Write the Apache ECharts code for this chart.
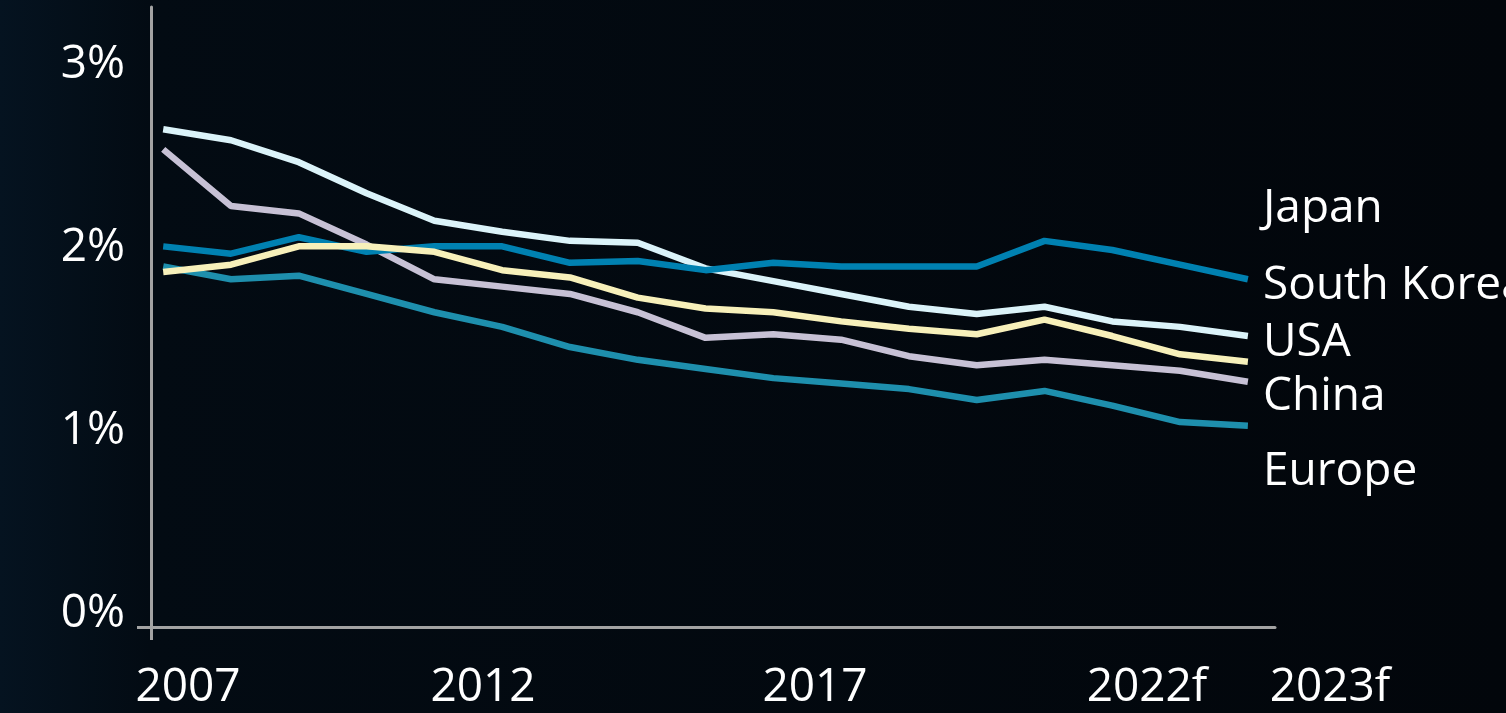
<!DOCTYPE html>
<html>
<head>
<meta charset="utf-8">
<title>Share by region</title>
<script src="https://cdn.jsdelivr.net/npm/echarts@6/dist/echarts.min.js"></script>
<style>
  html, body { margin: 0; padding: 0; background: #02070d; }
  #main { width: 1506px; height: 713px; }
</style>
</head>
<body>
<div id="main"></div>
<script>
var years = [2007, 2008, 2009, 2010, 2011, 2012, 2013, 2014, 2015, 2016, 2017, 2018, 2019, 2020, 2021, 2022, 2023];

var southKorea = [2.72, 2.66, 2.54, 2.37, 2.22, 2.16, 2.11, 2.10, 1.96, 1.89, 1.82, 1.75, 1.71, 1.75, 1.67, 1.64, 1.59];
var japan      = [2.08, 2.04, 2.13, 2.05, 2.08, 2.08, 1.99, 2.00, 1.95, 1.99, 1.97, 1.97, 1.97, 2.11, 2.06, 1.98, 1.90];
var usa        = [1.94, 1.98, 2.08, 2.08, 2.05, 1.95, 1.91, 1.80, 1.74, 1.72, 1.67, 1.63, 1.60, 1.68, 1.59, 1.49, 1.45];
var china      = [2.61, 2.30, 2.26, 2.09, 1.90, 1.86, 1.82, 1.72, 1.58, 1.60, 1.57, 1.48, 1.43, 1.46, 1.43, 1.40, 1.34];
var europe     = [1.97, 1.90, 1.92, 1.82, 1.72, 1.64, 1.53, 1.46, 1.41, 1.36, 1.33, 1.30, 1.24, 1.29, 1.21, 1.12, 1.10];

var yTicks = [0, 1, 2, 3];
var xLabels = ['2007', '2012', '2017', '2022f', '2023f'];
var seriesNames = ['Japan', 'South Korea', 'USA', 'China', 'Europe'];

// where the text boxes sit on the slide (layout only)
var xLabelX = [188, 483, 815, 1147, 1330];
var xLabelY = 688;
var nameX = 1263;
var nameY = [209, 286, 343, 397, 472];

var fontFamily = '"Open Sans", sans-serif',
    fontSize = 46,
    textColor = '#ffffff',
    axisColor = '#a3a3a3';

function pairs(vals) {
  return years.map(function (y, i) { return [y, vals[i]]; });
}

var chart = echarts.init(document.getElementById('main'));

var graphics = [];
xLabels.forEach(function (t, i) {
  graphics.push({
    type: 'text', x: xLabelX[i], y: xLabelY, silent: true,
    style: { text: t, fill: textColor, font: fontSize + 'px ' + fontFamily, align: 'center', verticalAlign: 'middle' }
  });
});
seriesNames.forEach(function (t, i) {
  graphics.push({
    type: 'text', x: nameX, y: nameY[i], silent: true,
    style: { text: t, fill: textColor, font: fontSize + 'px ' + fontFamily, align: 'left', verticalAlign: 'middle' }
  });
});

var option = {
  animation: false,
  backgroundColor: {
    type: 'linear', x: 0, y: 0, x2: 1, y2: 0,
    colorStops: [
      { offset: 0, color: '#051320' },
      { offset: 0.1, color: '#030b13' },
      { offset: 1, color: '#02060b' }
    ]
  },
  textStyle: { fontFamily: fontFamily },
  grid: { left: 151, right: 231, top: 7, bottom: 86 },
  xAxis: {
    type: 'value',
    min: 2007 - 0.18,
    max: 2023 + 0.4,
    axisLine: { show: true, lineStyle: { color: axisColor, width: 3 } },
    axisTick: { show: true, customValues: [2007 - 0.18], length: 13, inside: false, lineStyle: { color: axisColor, width: 3 } },
    axisLabel: { show: false },
    splitLine: { show: false }
  },
  yAxis: {
    type: 'value',
    min: 0,
    max: 620 / 183,
    axisLine: { show: true, lineStyle: { color: axisColor, width: 3 } },
    axisTick: { show: true, customValues: [0], length: 14, inside: false, lineStyle: { color: axisColor, width: 3 } },
    axisLabel: {
      customValues: yTicks,
      formatter: function (v) { return v + '%'; },
      color: textColor,
      fontSize: fontSize,
      fontFamily: fontFamily,
      margin: 26,
      verticalAlign: 'bottom',
      lineHeight: 26
    },
    splitLine: { show: false }
  },
  series: [
    { name: 'Europe', type: 'line', symbol: 'none', data: pairs(europe), lineStyle: { width: 6.5, color: '#1e8fad' } },
    { name: 'China', type: 'line', symbol: 'none', data: pairs(china), lineStyle: { width: 6.5, color: '#c7c1d5' } },
    { name: 'South Korea', type: 'line', symbol: 'none', data: pairs(southKorea), lineStyle: { width: 6.5, color: '#dbf3f9' } },
    { name: 'Japan', type: 'line', symbol: 'none', data: pairs(japan), lineStyle: { width: 6.5, color: '#0081b1' } },
    { name: 'USA', type: 'line', symbol: 'none', data: pairs(usa), lineStyle: { width: 6.5, color: '#f7f0ba' } }
  ],
  graphic: graphics
};

chart.setOption(option);
</script>
</body>
</html>
